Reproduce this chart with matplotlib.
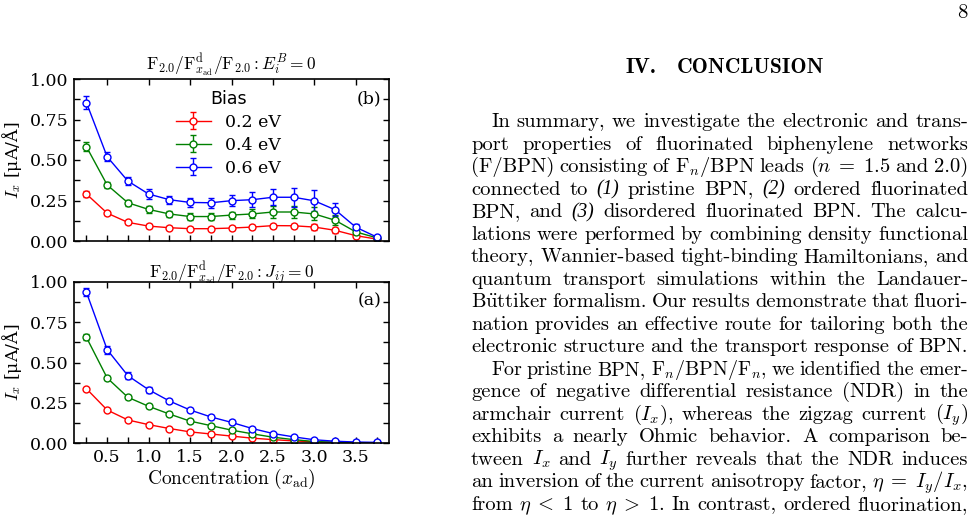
import matplotlib
matplotlib.use('Agg')
import matplotlib.pyplot as plt
from matplotlib.ticker import MultipleLocator, FormatStrFormatter

''' data read off the figure '''
conc = [0.25, 0.5, 0.75, 1.0, 1.25, 1.5, 1.75, 2.0, 2.25, 2.5, 2.75, 3.0, 3.25, 3.5, 3.75]
bias_labels = ['0.2 eV', '0.4 eV', '0.6 eV']
colors = ['#ff0000', '#008000', '#0000ff']

# panel (b): E_i^B = 0
b_02 = [0.290, 0.172, 0.115, 0.092, 0.082, 0.076, 0.076, 0.080, 0.086, 0.095, 0.094, 0.086, 0.066, 0.033, 0.012]
b_04 = [0.582, 0.346, 0.236, 0.195, 0.167, 0.151, 0.151, 0.160, 0.167, 0.179, 0.179, 0.167, 0.128, 0.056, 0.020]
b_06 = [0.854, 0.520, 0.370, 0.290, 0.255, 0.238, 0.236, 0.249, 0.255, 0.270, 0.270, 0.248, 0.193, 0.085, 0.025]
b_02_err = [0.018, 0.010, 0.010, 0.010, 0.008, 0.008, 0.008, 0.010, 0.010, 0.012, 0.014, 0.016, 0.014, 0.010, 0.004]
b_04_err = [0.028, 0.018, 0.018, 0.020, 0.018, 0.020, 0.020, 0.022, 0.028, 0.034, 0.040, 0.040, 0.030, 0.018, 0.005]
b_06_err = [0.042, 0.028, 0.024, 0.030, 0.025, 0.030, 0.030, 0.035, 0.045, 0.048, 0.060, 0.065, 0.040, 0.020, 0.006]

# panel (a): J_ij = 0
a_02 = [0.337, 0.205, 0.143, 0.114, 0.090, 0.069, 0.056, 0.043, 0.030, 0.021, 0.013, 0.007, 0.004, 0.002, 0.001]
a_04 = [0.656, 0.404, 0.284, 0.228, 0.180, 0.136, 0.108, 0.080, 0.057, 0.036, 0.021, 0.009, 0.005, 0.002, 0.001]
a_06 = [0.936, 0.580, 0.418, 0.331, 0.261, 0.205, 0.162, 0.128, 0.090, 0.059, 0.038, 0.020, 0.011, 0.006, 0.004]
a_02_err = [0.006, 0.006, 0.005, 0.005, 0.004, 0.004, 0.004, 0.003, 0.003, 0.002, 0.002, 0.002, 0.001, 0.001, 0.001]
a_04_err = [0.018, 0.014, 0.012, 0.012, 0.012, 0.012, 0.010, 0.008, 0.006, 0.005, 0.004, 0.003, 0.002, 0.001, 0.001]
a_06_err = [0.025, 0.025, 0.020, 0.018, 0.015, 0.015, 0.013, 0.012, 0.008, 0.006, 0.005, 0.004, 0.010, 0.010, 0.002]

title_b = r'$\mathrm{F}_{2.0}/\mathrm{F}^{\mathrm{d}}_{x_{\mathrm{ad}}}/\mathrm{F}_{2.0}:E_i^B=0$'
title_a = r'$\mathrm{F}_{2.0}/\mathrm{F}^{\mathrm{d}}_{x_{\mathrm{ad}}}/\mathrm{F}_{2.0}:J_{ij}=0$'

# page text next to the figure
heading = ['IV.', 'CONCLUSION']
body_lines = [
    (True, "In summary, we investigate the electronic and trans-"),
    (False, "port properties of fluorinated biphenylene networks"),
    (False, r"(F/BPN) consisting of F$_n$/BPN leads ($n\;=\;1.5$ and 2.0)"),
    (False, "connected to (1) pristine BPN, (2) ordered fluorinated"),
    (False, "BPN, and (3) disordered fluorinated BPN. The calcu-"),
    (False, "lations were performed by combining density functional"),
    (False, "theory, Wannier-based tight-binding Hamiltonians, and"),
    (False, "quantum transport simulations within the Landauer-"),
    (False, r"B$\ddot{\mathrm{u}}$ttiker formalism. Our results demonstrate that fluori-"),
    (False, "nation provides an effective route for tailoring both the"),
    (False, "electronic structure and the transport response of BPN."),
    (True, "For pristine BPN, F$_n$/BPN/F$_n$, we identified the emer-"),
    (False, "gence of negative differential resistance (NDR) in the"),
    (False, "armchair current ($I_x$), whereas the zigzag current ($I_y$)"),
    (False, "exhibits a nearly Ohmic behavior. A comparison be-"),
    (False, "tween $I_x$ and $I_y$ further reveals that the NDR induces"),
    (False, r"an inversion of the current anisotropy factor, $\eta\;=\;I_y/I_x$,"),
    (False, r"from $\eta\;<\;1$ to $\eta\;>\;1$. In contrast, ordered fluorination,"),
]
italic_words = ['(1)', '(2)', '(3)']

plt.rcParams['font.family'] = 'DejaVu Serif'
plt.rcParams['mathtext.fontset'] = 'cm'

W, H = 974, 520
fig = plt.figure(figsize=(W / 100, H / 100), dpi=100)

ax_b = fig.add_axes([74 / W, 1 - 241 / H, 315 / W, 162 / H])
ax_a = fig.add_axes([74 / W, 1 - 443 / H, 315 / W, 161 / H])


def style_axes(ax):
    ax.set_xlim(0.1, 3.9)
    ax.set_ylim(0, 1.0)
    ax.xaxis.set_major_locator(MultipleLocator(0.5))
    ax.xaxis.set_minor_locator(MultipleLocator(0.25))
    ax.yaxis.set_major_locator(MultipleLocator(0.25))
    ax.yaxis.set_minor_locator(MultipleLocator(0.125))
    ax.xaxis.set_major_formatter(FormatStrFormatter('%.1f'))
    ax.yaxis.set_major_formatter(FormatStrFormatter('%.2f'))
    ax.tick_params(which='both', direction='in', length=4, width=1, right=True, top=True,
                   labelsize=12.5, pad=4)
    ax.tick_params(which='minor', top=False)
    for sp in ax.spines.values():
        sp.set_linewidth(1.2)
    ax.set_ylabel(r'$I_x$ [μA/Å]', fontsize=12.5, labelpad=4)


panels = [
    (ax_b, [b_02, b_04, b_06], [b_02_err, b_04_err, b_06_err], title_b, '(b)'),
    (ax_a, [a_02, a_04, a_06], [a_02_err, a_04_err, a_06_err], title_a, '(a)'),
]
for ax, series, errs, title, tag in panels:
    for y, e, c, lab in zip(series, errs, colors, bias_labels):
        ax.errorbar(conc, y, yerr=e, color=c, lw=1.0, elinewidth=1.0, capsize=2.5, capthick=1.0,
                    marker='o', ms=5, mfc='white', mec=c, mew=1.0, label=lab)
    style_axes(ax)
    ax.set_title(title, fontsize=12.5, pad=3)
    ax.text(0.975, 0.88, tag, transform=ax.transAxes, ha='right', va='center', fontsize=12.5)

ax_b.tick_params(labelbottom=False)
ax_a.set_xlabel(r'$\mathrm{Concentration\ (}x_{\mathrm{ad}}\mathrm{)}$', fontsize=14, labelpad=1)

leg = ax_b.legend(title='Bias', frameon=False, loc='upper center', bbox_to_anchor=(0.49, 1.02),
                  prop={'family': 'DejaVu Serif', 'size': 12.5},
                  title_fontproperties={'family': 'DejaVu Sans', 'size': 12.5},
                  handlelength=2.0, handletextpad=0.8, labelspacing=0.35, borderpad=0.3)

''' page text on the right '''
rend = fig.canvas.get_renderer()
body_size = 14.8


def split_words(line):
    words, cur, inmath = [], '', False
    for ch in line:
        if ch == '$':
            inmath = not inmath
        if ch == ' ' and not inmath:
            if cur:
                words.append(cur)
            cur = ''
        else:
            cur += ch
    if cur:
        words.append(cur)
    return words


def put_line(words, x0, x1, yb, size, min_gap=4.0):
    # shrink the line a little if the words do not fit with a normal space
    while True:
        texts = []
        for w in words:
            if w in italic_words:
                t = fig.text(0, 1 - yb / H, w, fontsize=size * 0.95, va='baseline', ha='left',
                             family='Liberation Serif', style='italic')
            else:
                t = fig.text(0, 1 - yb / H, w, fontsize=size, va='baseline', ha='left', family='cmr10')
            texts.append(t)
        widths = [t.get_window_extent(rend).width for t in texts]
        gap = (x1 - x0 - sum(widths)) / max(len(words) - 1, 1)
        if gap >= min_gap or size < 11:
            break
        for t in texts:
            t.remove()
        size -= 0.2
    x = x0
    for t, w in zip(texts, widths):
        t.set_x(x / W)
        x += w + gap


fig.text(968 / W, 1 - 18 / H, '8', fontsize=15, family='cmr10', ha='right', va='baseline')
fig.text(626 / W, 1 - 73 / H, heading[0], fontsize=15.5, family='cmb10', ha='left', va='baseline')
fig.text(677 / W, 1 - 73 / H, heading[1], fontsize=15.5, family='cmb10', ha='left', va='baseline')

for i, (indent, line) in enumerate(body_lines):
    yb = 127 + 22.53 * i
    x0 = 491 if indent else 471
    put_line(split_words(line), x0, 968, yb, body_size)

fig.savefig('out.png', dpi=100)
